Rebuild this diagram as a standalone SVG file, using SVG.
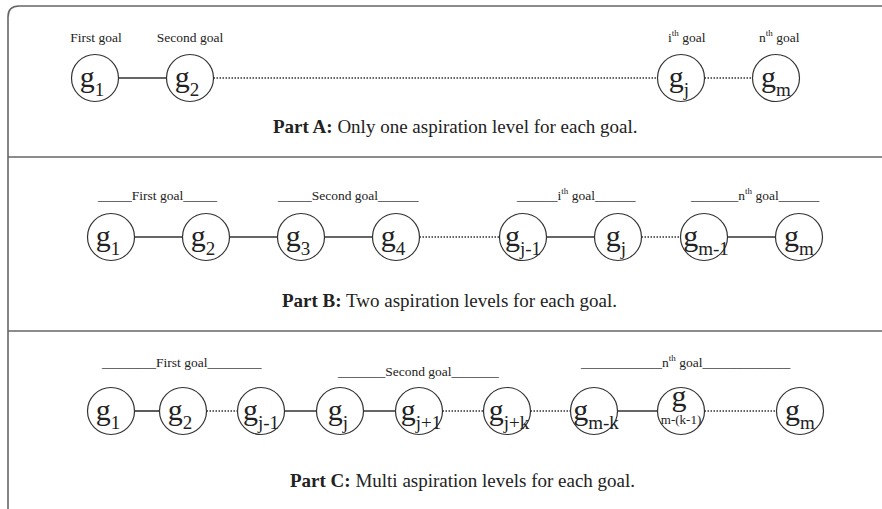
<svg xmlns="http://www.w3.org/2000/svg" width="882" height="509" viewBox="0 0 882 509">
<style>
text{font-family:"Liberation Serif","Times New Roman",serif;fill:#222}
.lbl{font-size:13.5px}
.sup{font-size:9px}
.part{font-size:19px}
.part .b{font-weight:bold}
.node circle{fill:#fff;stroke:#333;stroke-width:1.2}
.node text{font-size:30px;text-anchor:middle}
.node .s{font-size:19px}
.solid{stroke:#333;stroke-width:1.6;fill:none}
.dot{stroke:#333;stroke-width:1.5;stroke-dasharray:1.5 1.5;fill:none}
.frame{stroke:#666;stroke-width:1.6;fill:none}
</style>
<g id="frame">
<path class="frame" d="M8 509 L8 17 Q8 6 19 6 L882 6"/>
<line class="frame" x1="8" y1="157" x2="882" y2="157"/>
<line class="frame" x1="8" y1="331" x2="882" y2="331"/>
</g>
<g id="connectors">
<line class="solid" x1="118.5" y1="78" x2="166.5" y2="78"/>
<line class="dot" x1="213.5" y1="78" x2="657.5" y2="78"/>
<line class="dot" x1="704.5" y1="78" x2="752.5" y2="78"/>
<line class="solid" x1="134.5" y1="237" x2="182.5" y2="237"/>
<line class="solid" x1="229.5" y1="237" x2="277.5" y2="237"/>
<line class="solid" x1="324.5" y1="237" x2="372.5" y2="237"/>
<line class="dot" x1="419.5" y1="237" x2="499.5" y2="237"/>
<line class="solid" x1="546.5" y1="237" x2="594.5" y2="237"/>
<line class="dot" x1="641.5" y1="237" x2="680.5" y2="237"/>
<line class="solid" x1="727.5" y1="237" x2="775.5" y2="237"/>
<line class="solid" x1="134.5" y1="411" x2="159.5" y2="411"/>
<line class="dot" x1="206.5" y1="411" x2="237.5" y2="411"/>
<line class="solid" x1="284.5" y1="411" x2="316.5" y2="411"/>
<line class="solid" x1="363.5" y1="411" x2="395.5" y2="411"/>
<line class="dot" x1="442.5" y1="411" x2="483.5" y2="411"/>
<line class="dot" x1="530.5" y1="411" x2="570.5" y2="411"/>
<line class="solid" x1="617.5" y1="411" x2="657.5" y2="411"/>
<line class="dot" x1="704.5" y1="411" x2="776.5" y2="411"/>
</g>
<g id="labels">
<text class="lbl" x="96" y="42" text-anchor="middle">First goal</text>
<text class="lbl" x="190" y="42" text-anchor="middle">Second goal</text>
<text class="lbl" x="668" y="42">i<tspan class="sup" dy="-6">th</tspan><tspan dy="6"> goal</tspan></text>
<text class="lbl" x="759" y="42">n<tspan class="sup" dy="-6">th</tspan><tspan dy="6"> goal</tspan></text>
<text class="lbl" x="98" y="200">_____First goal_____</text>
<text class="lbl" x="278" y="200">_____Second goal______</text>
<text class="lbl" x="517" y="200">______i<tspan class="sup" dy="-6">th</tspan><tspan dy="6"> goal______</tspan></text>
<text class="lbl" x="691" y="200">_______n<tspan class="sup" dy="-6">th</tspan><tspan dy="6"> goal______</tspan></text>
<text class="lbl" x="102" y="367">________First goal________</text>
<text class="lbl" x="338" y="376">_______Second goal_______</text>
<text class="lbl" x="581" y="367">____________n<tspan class="sup" dy="-6">th</tspan><tspan dy="6"> goal_____________</tspan></text>
<text class="part" x="273" y="133"><tspan class="b">Part A:</tspan> Only one aspiration level for each goal.</text>
<text class="part" x="282" y="307"><tspan class="b">Part B:</tspan> Two aspiration levels for each goal.</text>
<text class="part" x="290" y="487"><tspan class="b">Part C:</tspan> Multi aspiration levels for each goal.</text>
</g>
<g id="nodeA1" class="node"><circle cx="95" cy="78" r="23.5"/><text x="92" y="87">g<tspan class="s" dy="9">1</tspan></text></g>
<g id="nodeA2" class="node"><circle cx="190" cy="78" r="23.5"/><text x="187" y="87">g<tspan class="s" dy="9">2</tspan></text></g>
<g id="nodeAj" class="node"><circle cx="681" cy="78" r="23.5"/><text x="679" y="87">g<tspan class="s" dy="9">j</tspan></text></g>
<g id="nodeAm" class="node"><circle cx="776" cy="78" r="23.5"/><text x="776" y="87">g<tspan class="s" dy="9">m</tspan></text></g>
<g id="nodeB1" class="node"><circle cx="111" cy="237" r="23.5"/><text x="108" y="246">g<tspan class="s" dy="9">1</tspan></text></g>
<g id="nodeB2" class="node"><circle cx="206" cy="237" r="23.5"/><text x="203" y="246">g<tspan class="s" dy="9">2</tspan></text></g>
<g id="nodeB3" class="node"><circle cx="301" cy="237" r="23.5"/><text x="298" y="246">g<tspan class="s" dy="9">3</tspan></text></g>
<g id="nodeB4" class="node"><circle cx="396" cy="237" r="23.5"/><text x="393" y="246">g<tspan class="s" dy="9">4</tspan></text></g>
<g id="nodeBj1" class="node"><circle cx="523" cy="237" r="23.5"/><text x="523" y="246">g<tspan class="s" dy="9">j-1</tspan></text></g>
<g id="nodeBj" class="node"><circle cx="618" cy="237" r="23.5"/><text x="616" y="246">g<tspan class="s" dy="9">j</tspan></text></g>
<g id="nodeBm1" class="node"><circle cx="704" cy="237" r="23.5"/><text x="706" y="246">g<tspan class="s" dy="9">m-1</tspan></text></g>
<g id="nodeBm" class="node"><circle cx="799" cy="237" r="23.5"/><text x="799" y="246">g<tspan class="s" dy="9">m</tspan></text></g>
<g id="nodeC1" class="node"><circle cx="111" cy="411" r="23.5"/><text x="108" y="420">g<tspan class="s" dy="9">1</tspan></text></g>
<g id="nodeC2" class="node"><circle cx="183" cy="411" r="23.5"/><text x="180" y="420">g<tspan class="s" dy="9">2</tspan></text></g>
<g id="nodeCj1" class="node"><circle cx="261" cy="411" r="23.5"/><text x="261" y="420">g<tspan class="s" dy="9">j-1</tspan></text></g>
<g id="nodeCj" class="node"><circle cx="340" cy="411" r="23.5"/><text x="338" y="420">g<tspan class="s" dy="9">j</tspan></text></g>
<g id="nodeCjp1" class="node"><circle cx="419" cy="411" r="23.5"/><text x="421" y="420">g<tspan class="s" dy="9">j+1</tspan></text></g>
<g id="nodeCjk" class="node"><circle cx="507" cy="411" r="23.5"/><text x="509" y="420">g<tspan class="s" dy="9">j+k</tspan></text></g>
<g id="nodeCmk" class="node"><circle cx="594" cy="411" r="23.5"/><text x="596" y="420">g<tspan class="s" dy="9">m-k</tspan></text></g>
<g id="nodeCmk1" class="node"><circle cx="681" cy="411" r="23.5"/><text x="679" y="406">g</text><text x="681" y="424" style="font-size:13px">m-(k-1)</text></g>
<g id="nodeCm" class="node"><circle cx="800" cy="411" r="23.5"/><text x="800" y="420">g<tspan class="s" dy="9">m</tspan></text></g>
</svg>
